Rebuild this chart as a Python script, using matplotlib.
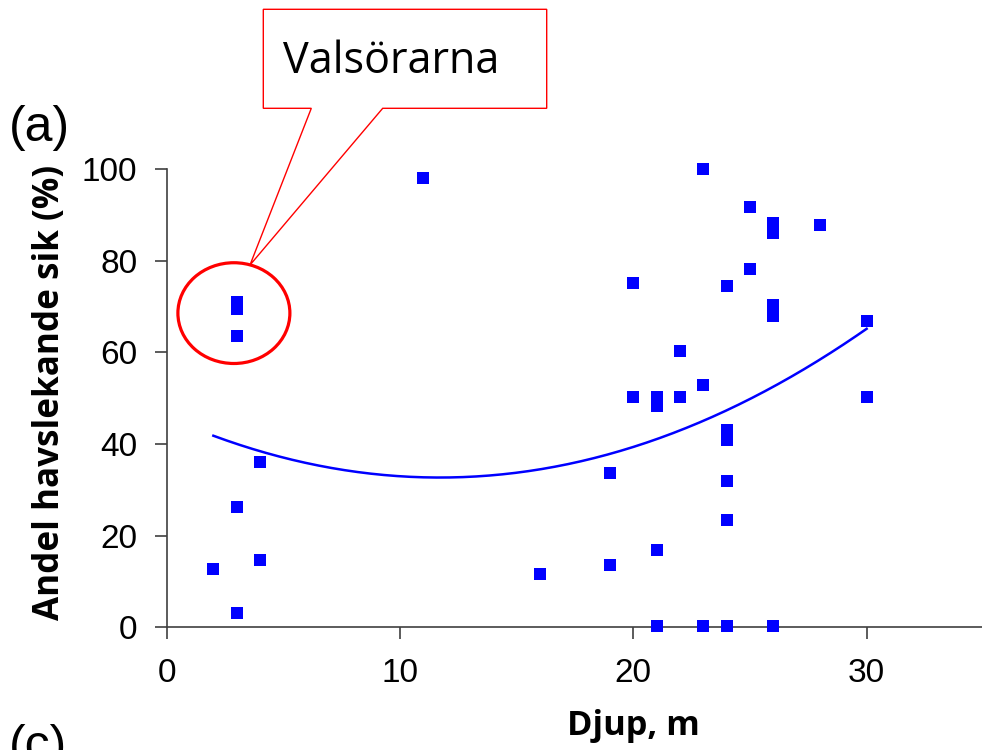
import matplotlib
matplotlib.use("Agg")
import matplotlib.pyplot as plt
import numpy as np
from matplotlib.patches import Ellipse, Polygon

depth = [2, 3, 3, 3, 3, 3, 4, 4, 11, 16, 19, 19, 20, 20, 21, 21, 21, 21,
         22, 22, 23, 23, 23, 24, 24, 24, 24, 24, 24, 25, 25, 26, 26, 26, 26, 26,
         28, 30, 30]
share = [12.7, 71.1, 69.4, 63.6, 26.3, 3.2, 36.1, 14.6, 98.0, 11.6, 33.7, 13.5,
         75.2, 50.3, 50.3, 48.4, 16.8, 0.3, 60.3, 50.3, 100.0, 53.0, 0.3,
         74.5, 43.1, 40.9, 32.0, 23.4, 0.3, 91.8, 78.2, 88.2, 86.2, 70.3, 68.0, 0.3,
         87.8, 66.9, 50.3]
# 2nd-order trend line: y = a*x^2 + b*x + c
trend_coef = [0.097, -2.27, 45.98]
trend_range = [2, 30]
x_ticks = [0, 10, 20, 30]
y_ticks = [0, 20, 40, 60, 80, 100]
x_label = "Djup, m"
y_label = "Andel havslekande sik (%)"
callout_text = "Valsörarna"

W, H = 982, 750
fig = plt.figure(figsize=(W / 100, H / 100), dpi=100)
plt.rcParams['font.family'] = ['Liberation Sans', 'DejaVu Sans']
BOLD_FAM = ['Open Sans', 'DejaVu Sans']


def fx(px):
    return px / W


def fy(py):
    return 1 - py / H


ax = fig.add_axes([fx(166.7), fy(627.3), fx(983.3) - fx(166.7), fy(169.3) - fy(627.3)])
ax.set_xlim(0, 35)
ax.set_ylim(0, 100)

xs = np.linspace(trend_range[0], trend_range[1], 200)
ax.plot(xs, np.polyval(trend_coef, xs), color=(0, 0, 1), lw=1.8, zorder=2)

ax.scatter(depth, share, marker='s', s=85, color=(0, 0, 1), linewidths=0,
           zorder=3, clip_on=False)

for s in ['top', 'right']:
    ax.spines[s].set_visible(False)
for s in ['left', 'bottom']:
    ax.spines[s].set_color('#404040')
    ax.spines[s].set_linewidth(1.2)

ax.set_xticks(x_ticks)
ax.set_yticks(y_ticks)
ax.tick_params(axis='x', direction='out', length=8.3, width=1.2, color='#404040',
               pad=14, labelsize=24)
ax.tick_params(axis='y', direction='out', length=8.6, width=1.2, color='#404040',
               pad=12.5, labelsize=24)

tx = fig.text(fx(633), fy(726), x_label, ha='center', va='center', fontsize=24,
              fontweight='bold', family=BOLD_FAM)
ty = fig.text(fx(50), fy(392.5), y_label, ha='center', va='center', fontsize=24,
              fontweight='bold', rotation=90, family=BOLD_FAM)

# ellipse around Valsörarna
ell = Ellipse((2.88, 68.6), 4.8, 22, fill=False, edgecolor='red', lw=2.3,
              zorder=4, clip_on=False)
ax.add_patch(ell)

# callout
pts = [(263.3, 9.3), (546.7, 9.3), (546.7, 108.3), (382.7, 108.3), (250, 265),
       (311.3, 108.3), (263.3, 108.3)]
poly = Polygon([(fx(a), fy(b)) for a, b in pts], closed=True, transform=fig.transFigure,
               facecolor='white', edgecolor='red', lw=1.0, zorder=5)
fig.patches.append(poly)
tc = fig.text(fx(283), fy(62), callout_text, ha='left', va='center', fontsize=33,
              family=['Open Sans', 'DejaVu Sans'], zorder=6)

fig.text(fx(9), fy(128), "(a)", ha='left', va='center', fontsize=36)
fig.text(fx(9), fy(747), "(c)", ha='left', va='center', fontsize=36)

# fit text sizes to the measured extents
r = fig.canvas.get_renderer()
for t, target, vertical in [(tx, 133, False), (ty, 455, True), (tc, 217, False)]:
    bb = t.get_window_extent(r)
    cur = bb.height if vertical else bb.width
    t.set_fontsize(t.get_fontsize() * target / cur)

fig.savefig("out.png", dpi=100)
